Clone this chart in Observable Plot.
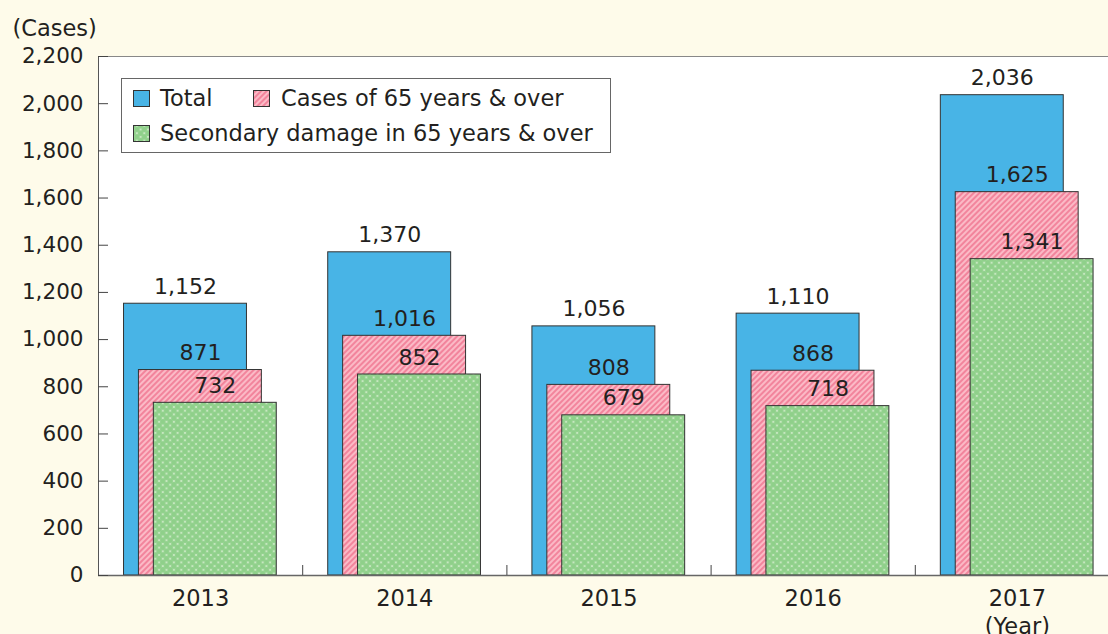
<!DOCTYPE html>
<html>
<head>
<meta charset="utf-8">
<script src="https://cdn.jsdelivr.net/npm/d3@7"></script>
<script src="https://cdn.jsdelivr.net/npm/@observablehq/plot@0.6"></script>
<style>
  html, body { margin: 0; padding: 0; background: #fefbea; }
  #chart { width: 1108px; height: 634px; overflow: hidden; }
  svg { display: block; }
</style>
</head>
<body>
<div id="chart"></div>
<script>
const years = ["2013", "2014", "2015", "2016", "2017"];
const total = [1152, 1370, 1056, 1110, 2036];
const over65 = [871, 1016, 808, 868, 1625];
const secondary = [732, 852, 679, 718, 1341];
const yTicks = [0, 200, 400, 600, 800, 1000, 1200, 1400, 1600, 1800, 2000, 2200];
const seriesNames = ["Total", "Cases of 65 years & over", "Secondary damage in 65 years & over"];

const FONT = "'DejaVu Sans', 'Noto Sans', sans-serif";
const TEXT = "#231f20";
const BLUE = "#48b4e6";

const barW = 0.602;
const series = [
  {values: total, offset: 0.125, fill: BLUE},
  {values: over65, offset: 0.198, fill: "url(#stripes)"},
  {values: secondary, offset: 0.271, fill: "url(#dots)"}
];

function defsMark() {
  const ns = "http://www.w3.org/2000/svg";
  const g = document.createElementNS(ns, "defs");
  g.innerHTML = `
    <pattern id="stripes" patternUnits="userSpaceOnUse" width="4" height="4" patternTransform="rotate(-45)">
      <rect width="4" height="4" fill="#fbbac6"></rect>
      <rect width="4" height="2" fill="#f2849c"></rect>
    </pattern>
    <pattern id="dots" patternUnits="userSpaceOnUse" width="7.4" height="7.4">
      <rect width="7.4" height="7.4" fill="#c6e7c0"></rect>
      <circle cx="0" cy="0" r="2.7" fill="#8fd08a"></circle>
      <circle cx="7.4" cy="0" r="2.7" fill="#8fd08a"></circle>
      <circle cx="0" cy="7.4" r="2.7" fill="#8fd08a"></circle>
      <circle cx="7.4" cy="7.4" r="2.7" fill="#8fd08a"></circle>
      <circle cx="3.7" cy="3.7" r="2.7" fill="#8fd08a"></circle>
    </pattern>`;
  return g;
}

function legendMark() {
  const g = d3.create("svg:g").attr("font-family", FONT).attr("font-size", 22.5).attr("fill", TEXT)
    .attr("text-anchor", "start");
  g.append("rect").attr("x", 121.5).attr("y", 78.5).attr("width", 489).attr("height", 74)
    .attr("fill", "white").attr("stroke", "#666").attr("stroke-width", 1);
  const items = [
    {x: 133, y: 90, fill: BLUE, tx: 160, label: seriesNames[0]},
    {x: 253, y: 90, fill: "url(#stripes)", tx: 281, label: seriesNames[1]},
    {x: 133, y: 125, fill: "url(#dots)", tx: 160, label: seriesNames[2]}
  ];
  for (const it of items) {
    g.append("rect").attr("x", it.x + 0.5).attr("y", it.y + 0.5).attr("width", 16).attr("height", 16)
      .attr("fill", it.fill).attr("stroke", "#333").attr("stroke-width", 1);
    g.append("text").attr("x", it.tx).attr("y", it.y + 8).attr("dy", "0.36em")
      .attr("text-anchor", "start").text(it.label);
  }
  return g.node();
}

const marks = [
  Plot.frame({fill: "white", stroke: "#888"}),
  defsMark
];
for (const s of series) {
  const rows = years.map((yr, i) => ({i, v: s.values[i]}));
  marks.push(Plot.rect(rows, {
    x1: d => d.i + s.offset, x2: d => d.i + s.offset + barW,
    y1: 0, y2: "v", fill: s.fill, stroke: "#333", strokeWidth: 1
  }));
  marks.push(Plot.text(rows, {
    x: d => d.i + s.offset + barW / 2, y: "v", text: d => d3.format(",")(d.v),
    dy: -17, fontSize: 22, fill: TEXT
  }));
}
marks.push(
  Plot.ruleY([0], {stroke: "#666", strokeWidth: 1.5}),
  Plot.ruleX([0], {stroke: "#555", strokeWidth: 1}),
  Plot.ruleX([1, 2, 3, 4], {y1: 0, y2: 0, insetBottom: 10, stroke: "#444"}),
  Plot.ruleY(yTicks, {x1: 0, x2: 0, insetRight: -10, stroke: "#444"}),
  Plot.axisY(yTicks, {tickSize: 0, tickPadding: 15, tickFormat: d3.format(","), fontSize: 21.5, fill: TEXT, label: null}),
  Plot.text(years, {x: (d, i) => i + 0.5, y: 0, dy: 23, fontSize: 22.5, fill: TEXT}),
  Plot.text(["(Year)"], {x: 4.5, y: 0, dy: 51, fontSize: 22.5, fill: TEXT}),
  Plot.text(["(Cases)"], {frameAnchor: "top-left", dx: -86, dy: -36, textAnchor: "start", fontSize: 22.5, fill: TEXT}),
  legendMark
);

const chart = Plot.plot({
  width: 1108,
  height: 634,
  marginLeft: 98,
  marginRight: -11,
  marginTop: 56,
  marginBottom: 59,
  style: {background: "transparent", fontFamily: FONT, color: TEXT, overflow: "hidden"},
  x: {domain: [0, 5], axis: null},
  y: {domain: [0, 2200], axis: null},
  marks
});
document.getElementById("chart").append(chart);
</script>
</body>
</html>
